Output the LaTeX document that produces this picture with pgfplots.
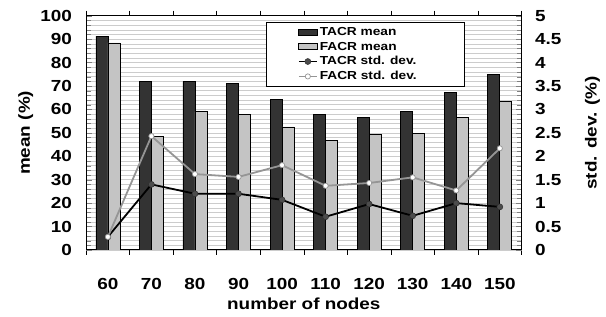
\documentclass[border=0pt]{standalone}
\usepackage{pgfplots}
\pgfplotsset{compat=1.18}
\usepackage{fontspec}
\setmainfont{Liberation Sans}[FakeStretch=1.18]
\definecolor{tacr}{HTML}{333333}
\definecolor{facr}{HTML}{C4C4C4}
\definecolor{facrline}{HTML}{959595}
\begin{document}
\begin{tikzpicture}
\pgfplotsset{
  common/.style={
    scale only axis, width=435pt, height=234pt,
    xmin=-0.5, xmax=9.5,
    /pgf/number format/assume math mode=true,
    tick label style={font=\fontsize{16}{16}\selectfont\bfseries, inner sep=0pt},
    label style={font=\fontsize{16}{16}\selectfont\bfseries},
    axis line style={line width=1pt},
    tick align=inside,
    minor tick length=5pt,
    major tick length=6pt,
  },
  barleg/.style={legend image code/.code={\path (-29pt,0pt); \draw[##1] (0pt,-3pt) rectangle (18pt,3pt);}},
  lineleg/.style={legend image code/.code={\path (-29pt,0pt); \draw[mark repeat=2,mark phase=2,##1] plot coordinates {(0pt,0pt) (9pt,0pt) (18pt,0pt)};}},
}
\begin{axis}[common,
  name=ax,
  ymin=0, ymax=100,
  ytick={0,10,...,100},
  yticklabel={\textbf{\pgfmathprintnumber{\tick}}},
  minor y tick num=4,
  ymajorgrids, yminorgrids,
  minor grid style={draw=gray!40, line width=0.5pt},
  major grid style={draw=gray!40, line width=0.5pt},
  axis y line*=left,
  xtick={0,...,9},
  xticklabels={\textbf{60},\textbf{70},\textbf{80},\textbf{90},\textbf{100},\textbf{110},\textbf{120},\textbf{130},\textbf{140},\textbf{150}},
  minor xtick={-0.5,0.5,1.5,2.5,3.5,4.5,5.5,6.5,7.5,8.5,9.5},
  major x tick style={draw=none},
  minor x tick style={black, line width=0.6pt},
  xticklabel style={anchor=north, yshift=-22pt},
  yticklabel style={anchor=east, xshift=-14pt},
  ylabel={mean (\%)},
  xlabel={number of nodes},
  ylabel style={at={(axis description cs:-0.1386,0.5)}, anchor=center, rotate=0},
  xlabel style={at={(axis description cs:0.5,-0.2038)}, anchor=north, inner sep=0pt},
  ybar=0pt, bar width=12pt,
]
\addplot[fill=tacr, draw=black, line width=0.7pt] coordinates {
(0,91.3) (1,71.8) (2,72.0) (3,71.0) (4,64.1) (5,57.7) (6,56.5) (7,59.1) (8,67.3) (9,74.9)};
\addplot[fill=facr, draw=black, line width=0.7pt] coordinates {
(0,88.4) (1,48.6) (2,59.1) (3,58.0) (4,52.5) (5,46.8) (6,49.2) (7,49.8) (8,56.5) (9,63.3)};
\end{axis}
\begin{axis}[common,
  ymin=0, ymax=5,
  ytick={0,0.5,...,5},
  yticklabels={\textbf{0},\textbf{0.5},\textbf{1},\textbf{1.5},\textbf{2},\textbf{2.5},\textbf{3},\textbf{3.5},\textbf{4},\textbf{4.5},\textbf{5}},
  minor y tick num=4,
  axis y line*=right,
  axis x line=none,
  ylabel={std. dev. (\%)},
  ylabel style={at={(axis description cs:1.1625,0.5)}, anchor=center},
  yticklabel style={anchor=west, xshift=13.3pt},
  legend style={at={(0.414,0.974)}, anchor=north west, draw=black, line width=1pt,
    font=\fontsize{11.6}{13}\selectfont\bfseries, inner xsep=2pt, inner ysep=3pt, row sep=1pt,
    cells={anchor=west}, legend cell align=left},
]
\addlegendimage{barleg, fill=tacr, draw=black, line width=0.7pt}
\addlegendentry{TACR mean}
\addlegendimage{barleg, fill=facr, draw=black, line width=0.7pt}
\addlegendentry{FACR mean}
\addplot[lineleg, draw=black, line width=1.8pt, mark=*, mark size=3pt, mark options={fill=gray!60!black, draw=gray!35!black, line width=0.5pt}] coordinates {
(0,0.28) (1,1.40) (2,1.20) (3,1.20) (4,1.07) (5,0.71) (6,0.98) (7,0.73) (8,1.00) (9,0.92)};
\addlegendentry{TACR std. dev.\hspace*{44pt}}
\addplot[lineleg, draw=facrline, line width=1.8pt, mark=*, mark size=2.6pt, mark options={fill=white, draw=facrline, line width=0.7pt}] coordinates {
(0,0.28) (1,2.43) (2,1.62) (3,1.56) (4,1.81) (5,1.37) (6,1.43) (7,1.55) (8,1.27) (9,2.17)};
\addlegendentry{FACR std. dev.\hspace*{44pt}}
\end{axis}
\path[use as bounding box] ([shift={(-86pt,-66pt)}]ax.south west) rectangle ([shift={(84.3pt,15.7pt)}]ax.north east);
\end{tikzpicture}
\end{document}
